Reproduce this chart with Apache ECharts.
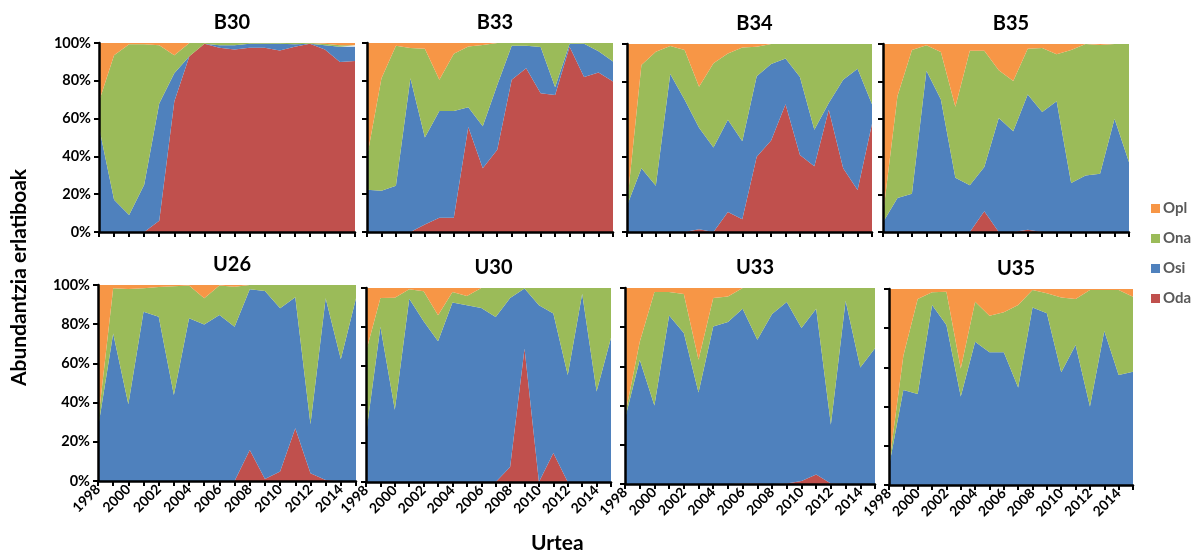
<!DOCTYPE html>
<html>
<head>
<meta charset="utf-8">
<script src="https://cdn.jsdelivr.net/npm/echarts@6/dist/echarts.min.js"></script>
<style>html,body{margin:0;padding:0;background:#fff;}#c{width:1200px;height:555px;}</style>
</head>
<body>
<div id="c"></div>
<script>
const years = ['1998','1999','2000','2001','2002','2003','2004','2005','2006','2007','2008','2009','2010','2011','2012','2013','2014','2015'];
const panelNames = ['B30','B33','B34','B35','U26','U30','U33','U35'];
const seriesNames = ['Oda','Osi','Ona','Opl'];
const yTicks = [0,20,40,60,80,100];

const b30Oda = [0,0,0,0,6,69,93,99.6,97.5,96.5,97.5,97.5,96,98,99.6,96.5,90,90.5];
const b30Osi = [55.5,17,9,25,62,15,0,0,1.3,2.3,2.1,2.1,3.6,1.3,0,2.3,8,7.5];
const b30Ona = [13.5,76.5,90.3,74.3,30.8,9.5,7,0.4,1.2,1.2,0.4,0.4,0.4,0.7,0.4,0.8,0.8,0.8];
const b30Opl = [31,6.5,0.7,0.7,1.2,6.5,0,0,0,0,0,0,0,0,0,0.4,1.2,1.2];

const b33Oda = [0,0,0,0,4,7.6,7.6,55.6,33.7,43.5,80.5,86.7,73.4,72.5,98,82,84.4,79.6];
const b33Osi = [22.4,21.8,24.5,81.3,46,56.4,56.4,10.4,22.3,34.3,18.1,11.9,24.5,4.1,1.6,17.6,11.2,10.6];
const b33Ona = [17.1,59.5,74.1,16,47,16.5,30.3,32.2,43,22.2,1.4,1.4,2.1,23.4,0.4,0.4,4.4,9.8];
const b33Opl = [60.5,18.7,1.4,2.7,3,19.5,5.7,1.8,1,0,0,0,0,0,0,0,0,0];

const b34Oda = [0,0,0,0,0,1.4,0,10.7,6.8,40,48.7,68,41,35,65,33.9,22.3,57.6];
const b34Osi = [13.9,33.9,24.6,84,70.4,54,45,49,41.5,42.9,40.6,24.3,41.5,19.4,3.6,47.1,64.5,10.3];
const b34Ona = [0.6,54.9,71.3,14.9,26.4,21.8,44.7,35.3,49.9,15.7,10.7,7.7,17.5,45.6,31.4,19,13.2,32.1];
const b34Opl = [85.5,11.2,4.1,1.1,3.2,22.8,10.3,5,1.8,1.4,0,0,0,0,0,0,0,0];

const b35Oda = [0,0,0,0,0,0,0,11,0,0,1.2,0,0,0,0,0,0,0];
const b35Osi = [5.2,18.1,20.4,85.8,70.5,28.8,24.9,23.6,60.7,53.6,72,63.8,69.6,26,30,31,60.2,37.1];
const b35Ona = [4,54.2,76.4,13.5,25.2,37.8,71.5,61.8,25.4,26.7,24.3,34.1,24.9,70.8,70,68.5,39.8,62.9];
const b35Opl = [90.8,27.7,3.2,0.7,4.3,33.4,3.6,3.6,13.9,19.7,2.5,2.1,5.5,3.2,0,0.5,0,0];

const u26Oda = [0,0,0,0,0,0,0,0,0,0,15.8,1,4.8,26.9,3.9,0.5,0,0];
const u26Osi = [26.9,75.3,39.1,86.4,83.8,43.9,83,79.9,84.7,78.7,82,95.9,83.3,66.8,25,92.7,62.1,93.2];
const u26Ona = [3.1,23,58.9,11.9,15.2,55.4,16.7,13.3,15,20.4,2.2,3.1,11.9,6.3,71.1,6.8,37.9,6.8];
const u26Opl = [70,1.7,2,1.7,1,0.7,0.3,6.8,0.3,0.9,0,0,0,0,0,0,0,0];

const u30Oda = [0,0,0,0,0,0,0,0,0,0,7.7,68.8,0,14.9,0,0,0,0];
const u30Osi = [24.3,80,37.2,94.5,82.9,72.6,92.5,91.1,89.7,85.1,87.2,30.9,91.1,71.9,55.1,97.1,46.6,74.3];
const u30Ona = [42.8,14.9,57.8,4.8,15.4,13.4,5.4,4.8,10.3,14.9,5.1,0.3,8.9,13.2,44.9,2.9,53.4,25.7];
const u30Opl = [32.9,5.1,5,0.7,1.7,14,2.1,4.1,0,0,0,0,0,0,0,0,0,0];

const u33Oda = [0,0,0,0,0,0,0,0,0.3,0.3,0,0.3,1.5,4.9,0.3,0,0,0];
const u33Osi = [33.2,63.4,40,86,77,46.7,80.4,82.6,89.1,73.3,86.7,92.5,78.1,84.5,29.9,93.5,59.5,69.3];
const u33Ona = [1.8,9,58,12,19.9,16.7,14.5,13.1,10.6,26.4,13.3,7.2,20.4,10.6,69.8,6.5,40.5,30.7];
const u33Opl = [65,27.6,2,2,3.1,36.6,5.1,4.3,0,0,0,0,0,0,0,0,0,0];

const u35Oda = [0,0,0,0,0,0,0,0,0,0,0,0,0,0,0,0,0,0];
const u35Osi = [9.4,48.5,46.4,91.8,81.6,45.1,73.1,67.7,67.7,49.7,90.5,87.6,57.5,71.4,40,78.6,56.1,57.8];
const u35Ona = [0.8,17.5,48.5,6.5,17,14.4,20.4,18.7,20.4,42.1,9,10.2,38.1,23.5,59.5,20.9,43.4,38.3];
const u35Opl = [89.8,34,5.1,1.7,1.4,40.5,6.5,13.6,11.9,8.2,0.5,2.2,4.4,5.1,0.5,0.5,0.5,3.9];

const panelData = [
  [b30Oda,b30Osi,b30Ona,b30Opl],
  [b33Oda,b33Osi,b33Ona,b33Opl],
  [b34Oda,b34Osi,b34Ona,b34Opl],
  [b35Oda,b35Osi,b35Ona,b35Opl],
  [u26Oda,u26Osi,u26Ona,u26Opl],
  [u30Oda,u30Osi,u30Ona,u30Opl],
  [u33Oda,u33Osi,u33Ona,u33Opl],
  [u35Oda,u35Osi,u35Ona,u35Opl]
];

const colors = {Oda:'#C0504D', Osi:'#4F81BD', Ona:'#9BBB59', Opl:'#F79646'};
const FONT = 'Lato';

// layout of each plot area: [left, top, width, height]
const gridBoxes = [
  [99,43,256,189],[367,43,246,189],[627,44,245,188],[883,44,246,188],
  [98,285,258,196],[366,288,245,194],[625,288,250,196],[889,289,244,196]
];

const grids = [], xAxes = [], yAxes = [], series = [], titles = [];
gridBoxes.forEach((b, k) => {
  grids.push({left:b[0], top:b[1], width:b[2], height:b[3], containLabel:false});
  const bottomRow = k >= 4;
  xAxes.push({
    type:'category', gridIndex:k, data:years, boundaryGap:false,
    axisLine:{show:true, lineStyle:{color:'#000', width:2.5}},
    axisTick:{show:true, interval:0, length:5, lineStyle:{color:'#000', width:2}},
    axisLabel:{show:bottomRow, interval:1, rotate:45, fontFamily:FONT, fontWeight:'bold', fontSize:14, color:'#000', margin:6},
    splitLine:{show:false}, z:5
  });
  const leftCol = (k % 4) === 0;
  yAxes.push({
    type:'value', gridIndex:k, min:yTicks[0], max:yTicks[yTicks.length-1], interval:20,
    axisLine:{show:true, lineStyle:{color:'#000', width:2.5}},
    axisTick:{show:true, length:5, lineStyle:{color:'#000', width:2}},
    axisLabel:{show:leftCol, formatter:'{value}%', fontFamily:FONT, fontWeight:'bold', fontSize:14.5, color:'#000', margin:8},
    splitLine:{show:false}, z:5
  });
  titles.push({
    text:panelNames[k], left:b[0]+b[2]/2, top:b[1]-35, textAlign:'center',
    textStyle:{fontFamily:FONT, fontWeight:'bold', fontSize:20, color:'#000'}
  });
  seriesNames.forEach((nm, j) => {
    series.push({
      name:nm, type:'line', xAxisIndex:k, yAxisIndex:k, stack:'s'+k,
      data:panelData[k][j], symbol:'none', showSymbol:false, silent:true,
      lineStyle:{width:0, color:colors[nm]}, itemStyle:{color:colors[nm]},
      areaStyle:{color:colors[nm], opacity:1}, animation:false
    });
  });
});

const chart = echarts.init(document.getElementById('c'), null, {renderer:'canvas'});
chart.setOption({
  animation:false,
  title:titles,
  grid:grids, xAxis:xAxes, yAxis:yAxes, series:series,
  legend:{
    data:['Opl','Ona','Osi','Oda'], orient:'vertical', left:1146, top:196,
    icon:'rect', itemWidth:9, itemHeight:9, itemGap:15,
    textStyle:{fontFamily:FONT, fontWeight:'bold', fontSize:15, color:'#595959', padding:[0,0,0,-2]}
  },
  graphic:[
    {type:'text', left:9, top:'middle', rotation:Math.PI/2,
      style:{text:'Abundantzia erlatiboak', fontFamily:FONT, fontWeight:'bold', fontSize:21, fill:'#000'}},
    {type:'text', left:531, top:533,
      style:{text:'Urtea', fontFamily:FONT, fontWeight:'bold', fontSize:21, fill:'#000'}}
  ]
});
</script>
</body>
</html>
